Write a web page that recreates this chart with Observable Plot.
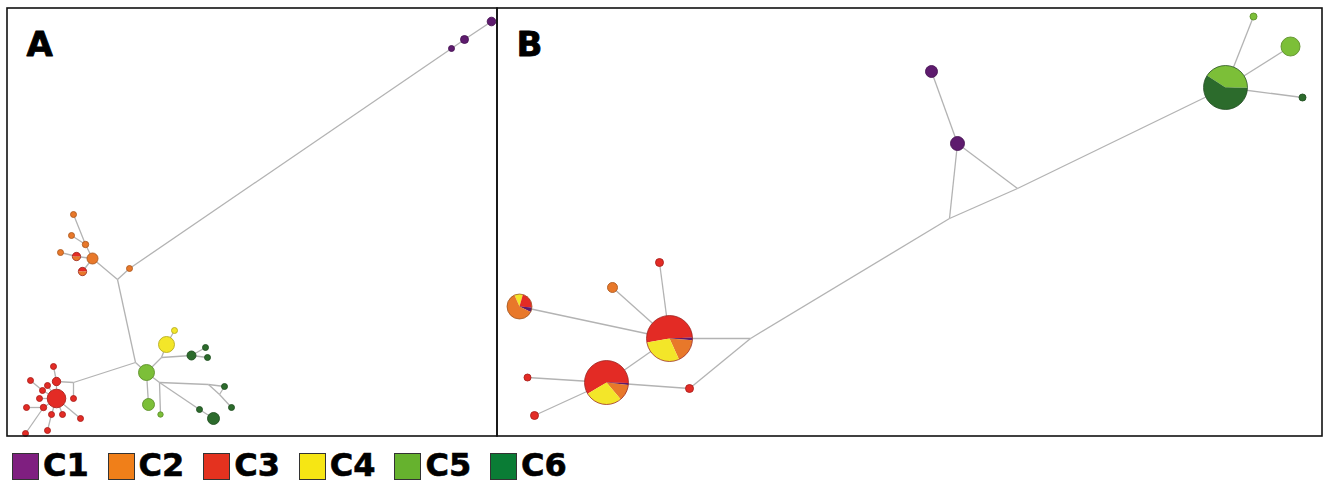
<!DOCTYPE html>
<html>
<head>
<meta charset="utf-8">
<script src="https://cdn.jsdelivr.net/npm/d3@7"></script>
<script src="https://cdn.jsdelivr.net/npm/@observablehq/plot@0.6"></script>
<style>
  html, body { margin: 0; padding: 0; background: #fff; }
  #chart svg { display: block; }
  #legend { position: relative; width: 1330px; height: 44px; font-family: "DejaVu Sans", Verdana, sans-serif; font-weight: bold; }
  #legend .sw { position: absolute; top: 13px; width: 25px; height: 25px; border: 1.5px solid #333; }
  #legend .lab { position: absolute; top: 6px; font-size: 32px; line-height: normal; color: #000; -webkit-text-stroke: 0.6px #000; }
</style>
</head>
<body>
<div id="chart"></div>
<div id="legend"></div>
<script>
// ---- data ----
const categories = ["C1", "C2", "C3", "C4", "C5", "C6"];
const nodeColors = ["#5e1b6e", "#e8782a", "#e32b25", "#f3e629", "#7cbf38", "#2c6b2c"];
const legendColors = ["#7f1f80", "#f07f19", "#e4321f", "#f6e614", "#66b22e", "#0a7c35"];

const panels = [
  {label: "A", x1: 7, x2: 497, y1: 8, y2: 436},
  {label: "B", x1: 497, x2: 1322, y1: 8, y2: 436}
];

// network nodes (layout units); c = haplogroup, "pie" = mixed, null = median vector
const nodes = [
  // panel A
  {id: "P1", x: 491, y: 21, r: 4.3, c: "C1"},
  {id: "P2", x: 464, y: 39, r: 4, c: "C1"},
  {id: "P3", x: 451, y: 48, r: 3, c: "C1"},
  {id: "O1", x: 73, y: 214, r: 3, c: "C2"},
  {id: "O2", x: 71, y: 235, r: 3, c: "C2"},
  {id: "O3", x: 85, y: 244, r: 3.2, c: "C2"},
  {id: "O4", x: 60, y: 252, r: 3, c: "C2"},
  {id: "O5", x: 76, y: 256, r: 4.2, c: "pie"},
  {id: "O6", x: 92, y: 258, r: 5.5, c: "C2"},
  {id: "O7", x: 82, y: 271, r: 4.2, c: "pie"},
  {id: "O8", x: 129, y: 268, r: 3, c: "C2"},
  {id: "J1", x: 117, y: 279, r: 0, c: null},
  {id: "J2", x: 135, y: 362, r: 0, c: null},
  {id: "G1", x: 146, y: 372, r: 8, c: "C5"},
  {id: "J3", x: 161, y: 357, r: 0, c: null},
  {id: "Y1", x: 166, y: 344, r: 8, c: "C4"},
  {id: "Y2", x: 174, y: 330, r: 3, c: "C4"},
  {id: "DG1", x: 191, y: 355, r: 4.5, c: "C6"},
  {id: "DG2", x: 205, y: 347, r: 3, c: "C6"},
  {id: "DG3", x: 207, y: 357, r: 3, c: "C6"},
  {id: "G2", x: 148, y: 404, r: 6, c: "C5"},
  {id: "J4", x: 159, y: 382, r: 0, c: null},
  {id: "G3", x: 160, y: 414, r: 2.7, c: "C5"},
  {id: "J5", x: 208, y: 384, r: 0, c: null},
  {id: "DG4", x: 224, y: 386, r: 3, c: "C6"},
  {id: "J6", x: 219, y: 394, r: 0, c: null},
  {id: "DG5", x: 231, y: 407, r: 3, c: "C6"},
  {id: "DG6", x: 199, y: 409, r: 3, c: "C6"},
  {id: "DG7", x: 213, y: 418, r: 6, c: "C6"},
  {id: "J7", x: 73, y: 382, r: 0, c: null},
  {id: "R1", x: 53, y: 366, r: 3, c: "C3"},
  {id: "R2", x: 56, y: 381, r: 4.2, c: "C3"},
  {id: "R3", x: 30, y: 380, r: 3, c: "C3"},
  {id: "R4", x: 42, y: 390, r: 3, c: "C3"},
  {id: "R5", x: 47, y: 385, r: 3, c: "C3"},
  {id: "R6", x: 39, y: 398, r: 3, c: "C3"},
  {id: "RB", x: 56, y: 398, r: 9.3, c: "C3"},
  {id: "R10", x: 73, y: 398, r: 3, c: "C3"},
  {id: "R8", x: 26, y: 407, r: 3, c: "C3"},
  {id: "R9", x: 43, y: 407, r: 3.2, c: "C3"},
  {id: "R11", x: 51, y: 414, r: 3, c: "C3"},
  {id: "R12", x: 62, y: 414, r: 3, c: "C3"},
  {id: "R13", x: 80, y: 418, r: 3, c: "C3"},
  {id: "R14", x: 47, y: 430, r: 3, c: "C3"},
  {id: "R15", x: 25, y: 433, r: 3, c: "C3"},
  // panel B
  {id: "P4", x: 931, y: 71, r: 6, c: "C1"},
  {id: "P5", x: 957, y: 143, r: 7, c: "C1"},
  {id: "J8", x: 949, y: 218, r: 0, c: null},
  {id: "J9", x: 1017, y: 188, r: 0, c: null},
  {id: "B4", x: 1225, y: 87, r: 22, c: "pie"},
  {id: "G5", x: 1253, y: 16, r: 3.5, c: "C5"},
  {id: "G6", x: 1290, y: 46, r: 9.5, c: "C5"},
  {id: "DG8", x: 1302, y: 97, r: 3.5, c: "C6"},
  {id: "B1", x: 669, y: 338, r: 23, c: "pie"},
  {id: "B2", x: 606, y: 382, r: 22, c: "pie"},
  {id: "B3", x: 519, y: 306, r: 12.5, c: "pie"},
  {id: "O9", x: 612, y: 287, r: 5, c: "C2"},
  {id: "R16", x: 659, y: 262, r: 4, c: "C3"},
  {id: "R17", x: 527, y: 377, r: 3.5, c: "C3"},
  {id: "R18", x: 534, y: 415, r: 4, c: "C3"},
  {id: "R19", x: 689, y: 388, r: 4, c: "C3"},
  {id: "J10", x: 750, y: 338, r: 0, c: null}
];

const edges = [
  ["P1","P2"],["P2","P3"],["P3","O8"],["O8","J1"],["J1","O6"],["O6","O3"],["O3","O1"],["O3","O2"],
  ["O6","O5"],["O5","O4"],["O6","O7"],["J1","J2"],["J2","G1"],["J2","J7"],["G1","J3"],["J3","Y1"],
  ["Y1","Y2"],["J3","DG1"],["DG1","DG2"],["DG1","DG3"],["G1","G2"],["G1","J4"],["J4","G3"],["J4","J5"],
  ["J5","DG4"],["J5","J6"],["DG4","J6"],["J6","DG5"],["J4","DG6"],["DG6","DG7"],["J7","R2"],["J7","R10"],
  ["R1","R2"],["R2","RB"],["R3","R4"],["R4","RB"],["R5","RB"],["R6","RB"],["R8","R9"],["R9","RB"],
  ["R11","RB"],["R12","RB"],["R13","RB"],["R14","R11"],["R15","R9"],
  ["P4","P5"],["P5","J8"],["P5","J9"],["B4","J9"],["J9","J8"],["J8","J10"],["J10","B1"],["J10","R19"],
  ["R19","B2"],["B1","B2"],["B3","B1"],["O9","B1"],["R16","B1"],["R17","B2"],["R18","B2"],
  ["B4","G5"],["B4","G6"],["B4","DG8"]
];

// mixed-node compositions (percent, clockwise order)
const pieParts = {
  O5: [["C3", 50], ["C2", 50]],
  O7: [["C3", 50], ["C2", 50]],
  B1: [["C3", 52], ["C1", 2], ["C2", 17], ["C4", 29]],
  B2: [["C3", 59], ["C1", 1.5], ["C2", 12], ["C4", 27.5]],
  B3: [["C4", 11], ["C3", 22], ["C1", 6], ["C2", 61]],
  B4: [["C5", 41], ["C6", 59]]
};
// ---- rendering-only settings ----
const pieStartDeg = {O5: 270, O7: 270, B1: 260, B2: 239, B3: 336, B4: 303};

const byId = new Map(nodes.map(d => [d.id, d]));
const links = edges.map(([s, t]) => ({s: byId.get(s), t: byId.get(t)}));
const colorOf = c => nodeColors[categories.indexOf(c)];

function wedge(a0, a1) {
  return {
    draw(ctx, size) {
      const r = Math.sqrt(size / Math.PI);
      ctx.moveTo(0, 0);
      ctx.arc(0, 0, r, a0 - Math.PI / 2, a1 - Math.PI / 2);
      ctx.closePath();
    }
  };
}

const sliceMarks = [];
const outlineData = [];
for (const id of Object.keys(pieParts)) {
  const n = byId.get(id);
  const parts = pieParts[id];
  const total = d3.sum(parts, p => p[1]);
  let a = pieStartDeg[id] * Math.PI / 180;
  for (const [cat, v] of parts) {
    const a1 = a + v / total * 2 * Math.PI;
    sliceMarks.push(Plot.dot([{x: n.x, y: n.y, r: n.r, cat}], {
      x: "x", y: "y", r: "r", symbol: wedge(a, a1), fill: "cat", stroke: "none"
    }));
    a = a1;
  }
  const main = d3.greatest(parts, p => p[1])[0];
  outlineData.push({x: n.x, y: n.y, r: n.r, stroke: d3.color(colorOf(main)).darker(1.2).formatHex()});
}

const nodeMarks = categories.map(cat => Plot.dot(nodes.filter(d => d.c === cat), {
  x: "x", y: "y", r: "r", fill: "c",
  stroke: d3.color(colorOf(cat)).darker(0.8).formatHex(), strokeWidth: 0.9
}));

const chart = Plot.plot({
  width: 1330,
  height: 440,
  margin: 0,
  x: {domain: [0, 1330], range: [0, 1330], axis: null},
  y: {domain: [0, 440], range: [0, 440], axis: null},
  r: {type: "linear", domain: [0, 30], range: [0, 30]},
  color: {domain: categories, range: nodeColors},
  style: {background: "#fff", overflow: "visible"},
  marks: [
    Plot.link(links, {
      x1: d => d.s.x, y1: d => d.s.y, x2: d => d.t.x, y2: d => d.t.y,
      stroke: "#b3b3b3", strokeWidth: 1.3
    }),
    ...nodeMarks,
    ...sliceMarks,
    ...outlineData.map(o => Plot.dot([o], {x: "x", y: "y", r: "r", fill: "none", stroke: o.stroke, strokeWidth: 0.9, strokeOpacity: 0.8})),
    Plot.rect(panels, {x1: "x1", x2: "x2", y1: "y1", y2: "y2", fill: "none", stroke: "#111", strokeWidth: 1.6}),
    Plot.text(panels, {
      x: d => d.x1 + 19, y: d => d.y1 + 47, text: "label",
      fontSize: 34, fontWeight: "bold", fontFamily: "DejaVu Sans, Verdana, sans-serif",
      textAnchor: "start", lineAnchor: "bottom", fill: "#000", stroke: "#000", strokeWidth: 0.8
    })
  ]
});
document.getElementById("chart").appendChild(chart);

// legend
const legend = document.getElementById("legend");
categories.forEach((cat, i) => {
  const left = 12 + i * 95.6;
  const sw = document.createElement("span");
  sw.className = "sw";
  sw.style.left = left + "px";
  sw.style.background = legendColors[i];
  const lab = document.createElement("span");
  lab.className = "lab";
  lab.style.left = (left + 31) + "px";
  lab.textContent = cat;
  legend.appendChild(sw);
  legend.appendChild(lab);
});
</script>
</body>
</html>
